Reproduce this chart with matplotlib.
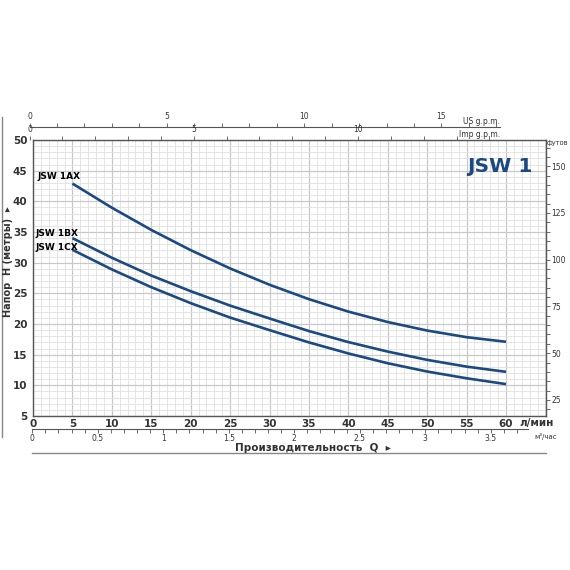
import matplotlib.pyplot as plt
from matplotlib.ticker import MultipleLocator

# flow, l/min
q = [5, 10, 15, 20, 25, 30, 35, 40, 45, 50, 55, 60]
# head, m
h_1ax = [42.9, 38.96, 35.34, 32.04, 29.06, 26.4, 24.05, 22.02, 20.32, 18.93, 17.85, 17.1]
h_1bx = [34.0, 30.8, 27.9, 25.35, 23.0, 20.9, 18.85, 17.05, 15.5, 14.15, 13.05, 12.2]
h_1cx = [32.1, 28.9, 26.0, 23.4, 21.05, 19.0, 17.0, 15.2, 13.6, 12.25, 11.15, 10.2]
names = ["JSW 1AX", "JSW 1BX", "JSW 1CX"]

W = H = 570
blue = "#1b4a82"
txt = "#333333"

def box(x0, y0, x1, y1):
    # pixel box -> figure coords
    return [x0 / W, 1 - y1 / H, (x1 - x0) / W, max((y1 - y0) / H, 1e-4)]

fig = plt.figure(figsize=(5.7, 5.7), dpi=100)

ax = fig.add_axes(box(33, 140, 546, 416))
for hh in (h_1ax, h_1bx, h_1cx):
    ax.plot(q, hh, color=blue, lw=1.9, solid_capstyle="butt",
            solid_joinstyle="round", zorder=3)
ax.set_xlim(0, 65.07)
ax.set_ylim(5, 50)
ax.xaxis.set_major_locator(MultipleLocator(5))
ax.xaxis.set_minor_locator(MultipleLocator(1))
ax.yaxis.set_major_locator(MultipleLocator(5))
ax.yaxis.set_minor_locator(MultipleLocator(1))
ax.grid(which="minor", color="#e0e0e0", lw=0.6)
ax.grid(which="major", color="#c8c8c8", lw=0.9)
ax.set_axisbelow(True)
ax.set_xticks([0, 5, 10, 15, 20, 25, 30, 35, 40, 45, 50, 55, 60])
ax.tick_params(which="both", length=0)
ax.tick_params(axis="x", pad=2, labelsize=7.5, labelcolor=txt)
ax.tick_params(axis="y", pad=4, labelsize=7.5, labelcolor=txt)
for lab in ax.get_xticklabels() + ax.get_yticklabels():
    lab.set_fontweight("bold")
for s in ax.spines.values():
    s.set_color("#555555")
    s.set_linewidth(1.0)

ax.text(0.6, 44.1, names[0], fontsize=6.5, fontweight="bold", va="center")
ax.text(0.35, 34.8, names[1], fontsize=6.5, fontweight="bold", va="center")
ax.text(0.35, 32.4, names[2], fontsize=6.5, fontweight="bold", va="center")
ax.text(63.3, 45.6, "JSW 1", fontsize=14.5, fontweight="bold", color=blue,
        ha="right", va="center")

# feet scale on the right
ft = ax.twinx()
ft.set_ylim(5 * 3.2808, 50 * 3.2808)
ft.yaxis.set_major_locator(MultipleLocator(25))
ft.yaxis.set_minor_locator(MultipleLocator(5))
ft.tick_params(which="both", length=3, width=0.6, color="#555555",
               labelsize=5.5, labelcolor=txt, pad=1)
for s in ft.spines.values():
    s.set_visible(False)
fig.text(568 / W, 1 - 143 / H, "футов", fontsize=4.8, color=txt,
         ha="right", va="center")

# US g.p.m. scale
us = fig.add_axes(box(29.5, 126.7, 500, 126.7))
us.set_xlim(0, 17.13)
# Imp g.p.m. scale
imp = fig.add_axes(box(29.5, 140, 500, 140))
imp.set_xlim(0, 14.32)
for a in (us, imp):
    a.set_yticks([])
    a.patch.set_visible(False)
    for k in ("left", "right", "bottom"):
        a.spines[k].set_visible(False)
    a.spines["top"].set_color("#555555")
    a.spines["top"].set_linewidth(0.8)
    a.xaxis.set_ticks_position("top")
    a.xaxis.set_major_locator(MultipleLocator(5))
    a.xaxis.set_minor_locator(MultipleLocator(1))
    a.tick_params(which="both", direction="out", length=3, width=0.6,
                  color="#555555", labelsize=5.5, labelcolor=txt, pad=1)
imp.spines["top"].set_visible(False)
fig.text(500 / W, 1 - 121 / H, "US g.p.m.", fontsize=5.5, color=txt,
         ha="right", va="center")
fig.text(500 / W, 1 - 134 / H, "Imp g.p.m.", fontsize=5.5, color=txt,
         ha="right", va="center")

# m3/h scale below
m3 = fig.add_axes(box(32.3, 428.7, 528, 428.7))
m3.set_xlim(0, 3.784)
m3.set_yticks([])
m3.patch.set_visible(False)
for k in ("left", "right", "top"):
    m3.spines[k].set_visible(False)
m3.spines["bottom"].set_color("#555555")
m3.spines["bottom"].set_linewidth(0.8)
m3.xaxis.set_major_locator(MultipleLocator(0.5))
m3.xaxis.set_minor_locator(MultipleLocator(0.1))
m3.xaxis.set_major_formatter(lambda v, p: f"{v:g}")
m3.tick_params(which="both", direction="out", length=3, width=0.6,
               color="#555555", labelsize=5.5, labelcolor=txt, pad=1)

fig.text(519 / W, 1 - 423 / H, "л/мин", fontsize=7.5, fontweight="bold",
         color=txt, ha="left", va="center")
fig.text(546 / W, 1 - 437 / H, "м³/час", fontsize=5, color=txt,
         ha="center", va="center")
fig.text(313 / W, 1 - 448 / H, "Производительность  Q  ▸", fontsize=7.5,
         fontweight="bold", color=txt, ha="center", va="center")
fig.text(8 / W, 1 - 262 / H, "Напор  H (метры)  ▸", fontsize=7,
         fontweight="bold", color=txt, ha="center", va="center", rotation=90)

# frame lines
fig.add_artist(plt.Line2D([32 / W, 546 / W], [1 - 453 / H, 1 - 453 / H],
                          color="#888888", lw=1.0))
fig.add_artist(plt.Line2D([1.5 / W, 1.5 / W], [1 - 117 / H, 1 - 437 / H],
                          color="#888888", lw=1.0))

fig.savefig("out.png", dpi=100)
